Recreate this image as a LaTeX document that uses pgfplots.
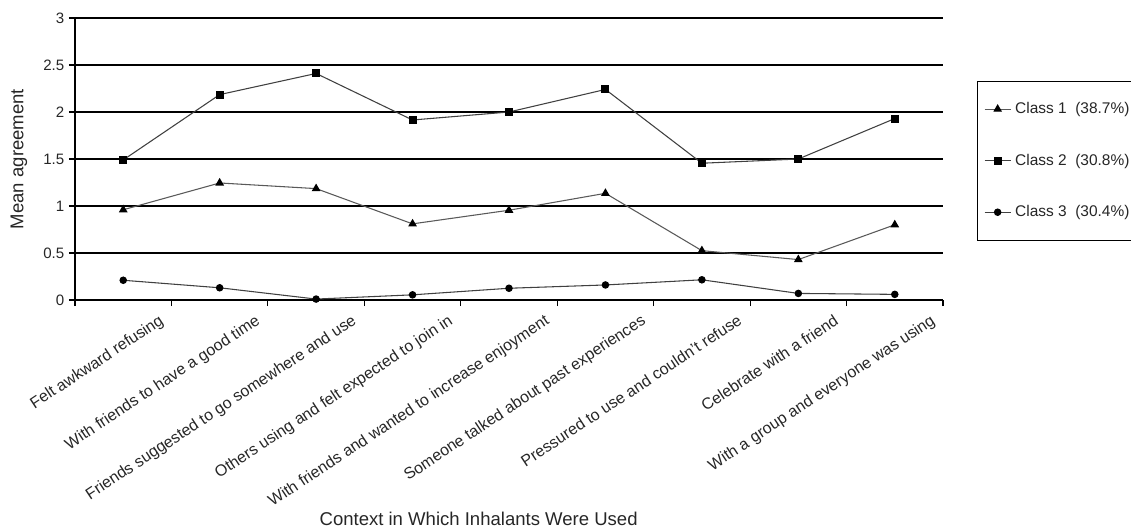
\documentclass[border=0pt]{standalone}
\usepackage{pgfplots}
\pgfplotsset{compat=1.18}
\usepackage{fontspec}
\setmainfont{Liberation Sans}
\begin{document}
\begin{tikzpicture}
\begin{axis}[
  at={(0,0)}, anchor=south west,
  scale only axis, width=651pt, height=211.5pt,
  xmin=0.5, xmax=9.5, ymin=0, ymax=3,
  clip=false,
  axis lines*=left,
  axis line style={-, black, line width=0.9pt},
  ytick={0,0.5,1,1.5,2,2.5,3},
  ymajorgrids,
  major grid style={black, line width=0.9pt},
  xtick={1.36,2.36,3.36,4.36,5.36,6.36,7.36,8.36,9.36},
  xticklabels={Felt awkward refusing, With friends to have a good time, Friends suggested to go somewhere and use, Others using and felt expected to join in, With friends and wanted to increase enjoyment, Someone talked about past experiences, Pressured to use and couldn't refuse, Celebrate with a friend, With a group and everyone was using},
  minor xtick={0.5,1.5,2.5,3.5,4.5,5.5,6.5,7.5,8.5,9.5},
  tick align=outside,
  major tick length=4.5pt, minor tick length=4.5pt,
  major x tick style={draw=none},
  minor x tick style={black, line width=0.9pt},
  major y tick style={black, line width=0.9pt},
  /pgf/number format/assume math mode=true,
  yticklabel style={font=\fontsize{11.3}{13}\selectfont, text=black!85},
  xticklabel style={rotate=33.5, anchor=north east, inner sep=0pt, font=\fontsize{12}{13}\selectfont, text=black!85},
  xticklabel shift=5.5pt,
  xlabel={Context in Which Inhalants Were Used},
  ylabel={Mean agreement},
  xlabel style={at={(axis description cs:0.465,-0.777)}, anchor=center, font=\fontsize{13.9}{16}\selectfont, text=black!85},
  ylabel style={at={(axis description cs:-0.0645,0.5)}, anchor=center, font=\fontsize{13.9}{16}\selectfont, text=black!85},
  legend style={at={(axis description cs:1.039,0.778)}, anchor=north west, draw=black, line width=0.9pt,
    font=\fontsize{11.6}{14}\selectfont, text=black!85, inner xsep=5pt, inner ysep=14pt, row sep=24.75pt, column sep=1pt},
  legend cell align=left,
  legend image code/.code={\draw[mark repeat=2, mark phase=2] plot coordinates {(0pt,0pt) (9.75pt,0pt) (19.5pt,0pt)};},
]
\addplot[color=black!65, line width=0.8pt, mark=triangle*, mark size=3pt, mark options={fill=black, draw=black, solid}]
  coordinates {(1,0.96) (2,1.245) (3,1.185) (4,0.81) (5,0.955) (6,1.135) (7,0.525) (8,0.43) (9,0.80)};
\addlegendentry{Class 1~~(38.7\%)}
\addplot[color=black!75, line width=0.8pt, mark=square*, mark size=2.6pt, mark options={fill=black, draw=black, solid}]
  coordinates {(1,1.49) (2,2.185) (3,2.41) (4,1.915) (5,2.0) (6,2.24) (7,1.455) (8,1.50) (9,1.93)};
\addlegendentry{Class 2~~(30.8\%)}
\addplot[color=black!75, line width=0.8pt, mark=*, mark size=2.4pt, mark options={fill=black, draw=black, solid}]
  coordinates {(1,0.21) (2,0.13) (3,0.01) (4,0.055) (5,0.125) (6,0.16) (7,0.215) (8,0.07) (9,0.06)};
\addlegendentry{Class 3~~(30.4\%)}
\end{axis}
\pgfresetboundingbox
\useasboundingbox (-56.25pt,-171pt) rectangle (792pt,225pt);
\end{tikzpicture}
\end{document}
